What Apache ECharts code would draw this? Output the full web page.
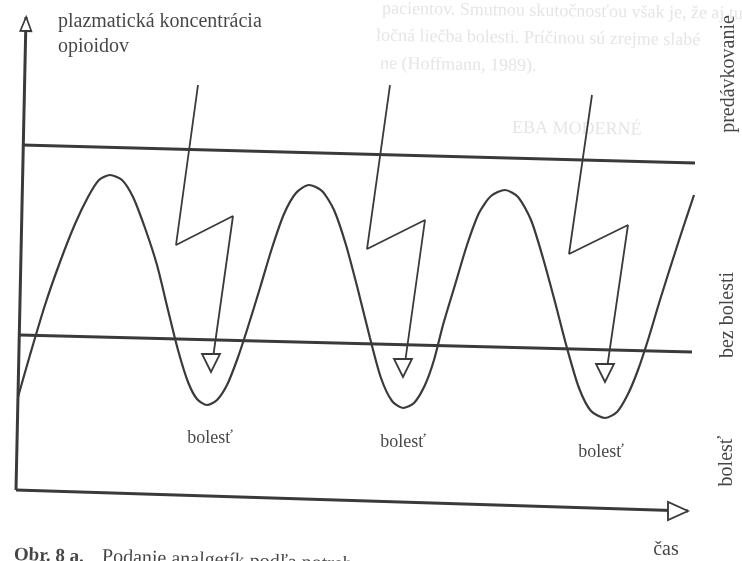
<!DOCTYPE html>
<html>
<head>
<meta charset="utf-8">
<script src="https://cdn.jsdelivr.net/npm/echarts@6/dist/echarts.min.js"></script>
<style>
  html, body { margin: 0; padding: 0; background: #fff; }
  #chart { width: 742px; height: 561px; }
</style>
</head>
<body>
<div id="chart"></div>
<script>
// schéma je naskenovaná (mierne pootočená), body sú čítané v jednotkách obrázka: x doprava, y nadol
const axisY = [[16, 490], [26, 17]];
const axisX = [[16, 490], [688, 511]];
const overdoseLine = [[22, 145], [695, 163]];
const painLine = [[20, 335], [692, 352]];

// plazmatická koncentrácia v čase
const concentration = [
  [18, 397], [30, 355], [45, 305], [60, 262], [75, 224], [88, 197], [99, 180], [110, 175],
  [122, 180], [133, 197], [145, 228], [157, 265], [168, 310], [178, 350], [188, 382], [197, 399], [207, 405],
  [217, 400], [227, 385], [237, 360], [247, 330], [260, 288], [272, 248], [284, 214], [296, 193], [309, 185],
  [322, 191], [334, 210], [346, 245], [358, 290], [370, 338], [381, 378], [392, 401], [403, 408],
  [414, 403], [425, 385], [434, 360], [443, 325], [455, 285], [467, 245], [479, 213], [491, 196], [505, 190],
  [518, 197], [531, 220], [543, 258], [555, 302], [567, 348], [579, 388], [591, 411], [605, 418],
  [617, 412], [628, 394], [638, 370], [648, 340], [660, 300], [672, 262], [683, 228], [694, 195]
];

// blesky = podanie analgetika
const bolt1 = [[198, 85], [176, 245], [233, 216], [211, 372]];
const bolt2 = [[390, 85], [367, 249], [425, 220], [403, 377]];
const bolt3 = [[592, 95], [569, 254], [628, 225], [605, 382]];

const painLabels = ['bolesť', 'bolesť', 'bolesť'];
const painLabelAt = [[210, 438], [403, 442], [601, 452]];
const zoneLabels = ['predávkovanie', 'bez bolesti', 'bolesť'];
const zoneLabelAt = [[729, 74], [728, 315], [727, 461]];
const yTitle = ['plazmatická koncentrácia', 'opioidov'];
const yTitleAt = [[58, 22], [58, 47]];
const xTitle = 'čas';
const xTitleAt = [666, 550];
const caption = ['Obr. 8 a.', 'Podanie analgetík podľa potreby'];
const captionAt = [[14, 555], [102, 557]];
// presvitajúci text z druhej strany listu
const backText = [
  'pacientov. Smutnou skutočnosťou však je, že aj tu je',
  'ločná liečba bolesti. Príčinou sú zrejme slabé',
  'ne (Hoffmann, 1989).',
  'EBA MODERNÉ'
];
const backTextAt = [[382, 9], [376, 36], [380, 64], [512, 128]];

const ink = '#3a3a3a';
const font = '"Liberation Serif", "DejaVu Serif", serif';

function pathSeries(data, width, endArrow) {
  const pts = data.map((p, i) => {
    if (i === data.length - 1 && endArrow) {
      return {
        value: p,
        symbol: 'triangle',
        symbolSize: endArrow.size,
        symbolRotate: endArrow.rotate,
        symbolOffset: endArrow.offset
      };
    }
    return { value: p, symbol: 'none' };
  });
  return {
    type: 'line',
    data: pts,
    lineStyle: { color: ink, width: width },
    itemStyle: { color: '#fff', borderColor: ink, borderWidth: 1.8 },
    silent: true,
    animation: false,
    z: 3
  };
}

function textSeries(texts, at, style) {
  return {
    type: 'scatter',
    symbolSize: 0,
    silent: true,
    animation: false,
    data: texts.map((t, i) => ({
      value: at[i],
      name: t,
      label: Object.assign({
        show: true,
        formatter: t,
        position: 'inside',
        color: '#161616',
        fontFamily: font,
        fontSize: 18
      }, style)
    })),
    z: 5
  };
}

const boltArrow = { size: [18, 18], rotate: 180, offset: [0, -9] };

const option = {
  backgroundColor: '#fff',
  animation: false,
  grid: { left: 0, right: 0, top: 0, bottom: 0 },
  xAxis: { type: 'value', min: 0, max: 742, show: false },
  yAxis: { type: 'value', min: 0, max: 561, inverse: true, show: false },
  series: [
    Object.assign(textSeries(backText, backTextAt,
      { position: 'right', distance: 0, fontSize: 18, color: '#dedede', rotate: -0.8 }), { z: 1 }),
    pathSeries(axisY, 3, { size: [11, 14], rotate: -1.3, offset: [0, 7] }),
    pathSeries(axisX, 3, { size: [18, 20], rotate: -90, offset: [-10, 0] }),
    pathSeries(overdoseLine, 3),
    pathSeries(painLine, 3),
    Object.assign(pathSeries(concentration, 2.2), { smooth: 0.25 }),
    pathSeries(bolt1, 1.8, boltArrow),
    pathSeries(bolt2, 1.8, boltArrow),
    pathSeries(bolt3, 1.8, boltArrow),
    textSeries(painLabels, painLabelAt, {}),
    textSeries(zoneLabels, zoneLabelAt, { rotate: 90, fontSize: 20 }),
    textSeries(yTitle, yTitleAt, { position: 'right', distance: 0, fontSize: 20 }),
    textSeries([xTitle], [xTitleAt], { fontSize: 20 }),
    textSeries(caption, captionAt, { position: 'right', distance: 0, fontSize: 20, rotate: -1.8 })
  ]
};
// "Obr. 8 a." je tučne
option.series[13].data[0].label.fontWeight = 'bold';
option.series[13].data[0].label.fontSize = 19;

const chart = echarts.init(document.getElementById('chart'), null, { renderer: 'canvas' });
chart.setOption(option);
</script>
</body>
</html>
